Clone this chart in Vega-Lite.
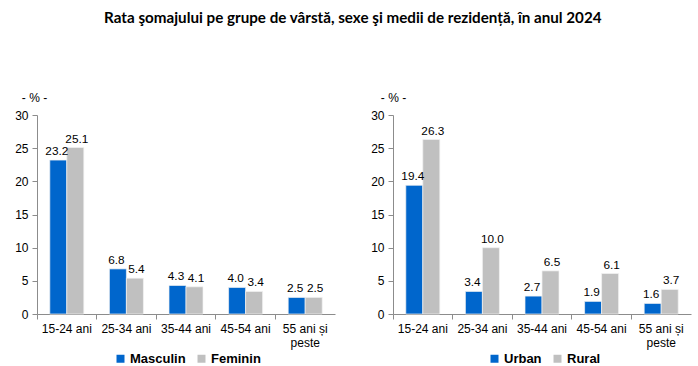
{
  "$schema": "https://vega.github.io/schema/vega-lite/v6.json",
  "padding": {"left": 14, "top": 10, "right": 4, "bottom": 4},
  "title": {"text": "Rata şomajului pe grupe de vârstă, sexe şi medii de rezidență, în anul 2024", "font": "Lato", "fontSize": 15.2, "fontWeight": "bold", "color": "#000000", "anchor": "middle", "offset": 65},
  "datasets": {
    "sexe": [
      {"grupa": "15-24 ani", "serie": "Masculin", "valoare": 23.2},
      {"grupa": "15-24 ani", "serie": "Feminin", "valoare": 25.1},
      {"grupa": "25-34 ani", "serie": "Masculin", "valoare": 6.8},
      {"grupa": "25-34 ani", "serie": "Feminin", "valoare": 5.4},
      {"grupa": "35-44 ani", "serie": "Masculin", "valoare": 4.3},
      {"grupa": "35-44 ani", "serie": "Feminin", "valoare": 4.1},
      {"grupa": "45-54 ani", "serie": "Masculin", "valoare": 4.0},
      {"grupa": "45-54 ani", "serie": "Feminin", "valoare": 3.4},
      {"grupa": "55 ani și peste", "serie": "Masculin", "valoare": 2.5},
      {"grupa": "55 ani și peste", "serie": "Feminin", "valoare": 2.5}
    ],
    "medii": [
      {"grupa": "15-24 ani", "serie": "Urban", "valoare": 19.4},
      {"grupa": "15-24 ani", "serie": "Rural", "valoare": 26.3},
      {"grupa": "25-34 ani", "serie": "Urban", "valoare": 3.4},
      {"grupa": "25-34 ani", "serie": "Rural", "valoare": 10.0},
      {"grupa": "35-44 ani", "serie": "Urban", "valoare": 2.7},
      {"grupa": "35-44 ani", "serie": "Rural", "valoare": 6.5},
      {"grupa": "45-54 ani", "serie": "Urban", "valoare": 1.9},
      {"grupa": "45-54 ani", "serie": "Rural", "valoare": 6.1},
      {"grupa": "55 ani și peste", "serie": "Urban", "valoare": 1.6},
      {"grupa": "55 ani și peste", "serie": "Rural", "valoare": 3.7}
    ]
  },
  "config": {
    "view": {"stroke": null},
    "font": "Liberation Sans",
    "axis": {"labelFont": "Liberation Sans", "labelFontSize": 12, "labelColor": "#000000", "domainColor": "#8c8c8c", "tickColor": "#8c8c8c", "grid": false},
    "legend": {"labelFont": "Liberation Sans", "labelFontSize": 13, "labelFontWeight": "bold", "labelColor": "#000000", "symbolType": "square", "symbolSize": 64, "symbolStrokeWidth": 0, "labelOffset": 3, "columnPadding": 9}
  },
  "hconcat": [
    {
      "width": 298,
      "height": 199,
      "data": {"name": "sexe"},
      "encoding": {
        "x": {"field": "grupa", "type": "nominal", "sort": null, "scale": {"paddingInner": 0, "paddingOuter": 0},
          "axis": {"title": null, "labelAngle": 0, "bandPosition": 0, "tickSize": 5, "labelPadding": 4, "labelExpr": "datum.value == '55 ani și peste' ? ['55 ani și', 'peste'] : datum.value"}},
        "y": {"field": "valoare", "type": "quantitative", "scale": {"domain": [0, 30]},
          "axis": {"title": "- % -", "titleAngle": 0, "titleX": -3, "titleY": -18, "titleAlign": "center", "titleBaseline": "middle", "titleFont": "Liberation Sans", "titleFontSize": 12, "titleFontWeight": "normal", "titleColor": "#000000", "values": [0, 5, 10, 15, 20, 25, 30], "tickSize": 5, "labelPadding": 4}},
        "color": {"field": "serie", "type": "nominal", "scale": {"domain": ["Masculin", "Feminin"], "range": ["#0066CC", "#C0C0C0"]},
          "legend": {"title": null, "orient": "none", "direction": "horizontal", "legendX": 77, "legendY": 237}}
      },
      "layer": [
        {"transform": [{"filter": "datum.serie == 'Masculin'"}],
         "mark": {"type": "bar", "width": 17, "xOffset": -8.5, "stroke": "#f2f2f2", "strokeWidth": 0.7}},
        {"transform": [{"filter": "datum.serie == 'Feminin'"}],
         "mark": {"type": "bar", "width": 17, "xOffset": 8.5, "stroke": "#f2f2f2", "strokeWidth": 0.7}},
        {"transform": [{"filter": "datum.serie == 'Masculin'"}],
         "mark": {"type": "text", "dy": -9, "xOffset": -10, "fontSize": 11.8, "color": "#000000"},
          "encoding": {"text": {"field": "valoare", "type": "quantitative", "format": ".1f"}, "color": {"value": "#000000"}}},
        {"transform": [{"filter": "datum.serie == 'Feminin'"}],
         "mark": {"type": "text", "dy": -9, "xOffset": 10, "fontSize": 11.8, "color": "#000000"},
          "encoding": {"text": {"field": "valoare", "type": "quantitative", "format": ".1f"}, "color": {"value": "#000000"}}}
      ]
    },
    {
      "width": 298,
      "height": 199,
      "data": {"name": "medii"},
      "encoding": {
        "x": {"field": "grupa", "type": "nominal", "sort": null, "scale": {"paddingInner": 0, "paddingOuter": 0},
          "axis": {"title": null, "labelAngle": 0, "bandPosition": 0, "tickSize": 5, "labelPadding": 4, "labelExpr": "datum.value == '55 ani și peste' ? ['55 ani și', 'peste'] : datum.value"}},
        "y": {"field": "valoare", "type": "quantitative", "scale": {"domain": [0, 30]},
          "axis": {"title": "- % -", "titleAngle": 0, "titleX": 0, "titleY": -18, "titleAlign": "center", "titleBaseline": "middle", "titleFont": "Liberation Sans", "titleFontSize": 12, "titleFontWeight": "normal", "titleColor": "#000000", "values": [0, 5, 10, 15, 20, 25, 30], "tickSize": 5, "labelPadding": 4}},
        "color": {"field": "serie", "type": "nominal", "scale": {"domain": ["Urban", "Rural"], "range": ["#0066CC", "#C0C0C0"]},
          "legend": {"title": null, "orient": "none", "direction": "horizontal", "legendX": 95, "legendY": 237}}
      },
      "layer": [
        {"transform": [{"filter": "datum.serie == 'Urban'"}],
         "mark": {"type": "bar", "width": 17, "xOffset": -8.5, "stroke": "#f2f2f2", "strokeWidth": 0.7}},
        {"transform": [{"filter": "datum.serie == 'Rural'"}],
         "mark": {"type": "bar", "width": 17, "xOffset": 8.5, "stroke": "#f2f2f2", "strokeWidth": 0.7}},
        {"transform": [{"filter": "datum.serie == 'Urban'"}],
         "mark": {"type": "text", "dy": -9, "xOffset": -10, "fontSize": 11.8, "color": "#000000"},
          "encoding": {"text": {"field": "valoare", "type": "quantitative", "format": ".1f"}, "color": {"value": "#000000"}}},
        {"transform": [{"filter": "datum.serie == 'Rural'"}],
         "mark": {"type": "text", "dy": -9, "xOffset": 10, "fontSize": 11.8, "color": "#000000"},
          "encoding": {"text": {"field": "valoare", "type": "quantitative", "format": ".1f"}, "color": {"value": "#000000"}}}
      ]
    }
  ],
  "resolve": {"scale": {"color": "independent", "y": "independent"}, "legend": {"color": "independent"}},
  "spacing": 35
}
